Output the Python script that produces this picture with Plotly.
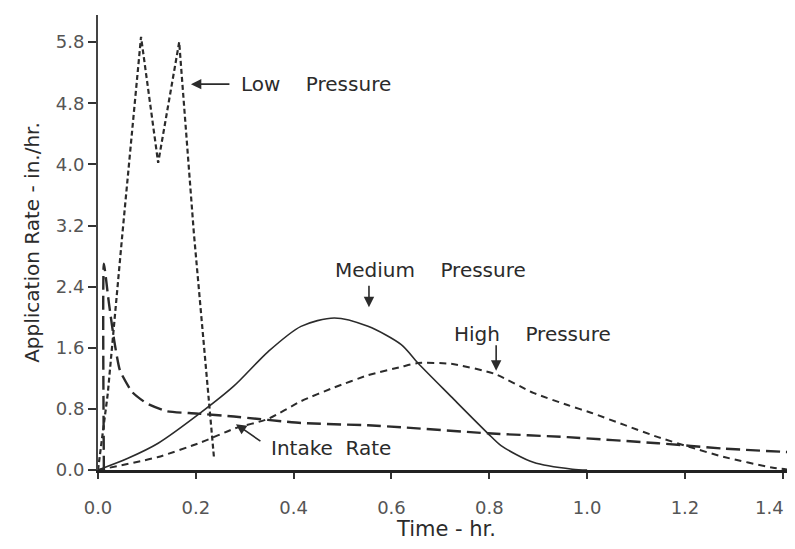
import plotly.graph_objects as go

# ---- data ----
low_x = [0.0, 0.02, 0.05, 0.088, 0.123, 0.166, 0.196, 0.237]
low_y = [0.0, 1.0, 3.1, 5.67, 4.02, 5.6, 3.1, 0.17]

medium_x = [0.0, 0.06, 0.123, 0.21, 0.278, 0.348, 0.415, 0.483, 0.552, 0.62, 0.654, 0.722, 0.797, 0.824, 0.89, 0.97, 1.0]
medium_y = [0.0, 0.15, 0.35, 0.75, 1.10, 1.55, 1.88, 1.99, 1.88, 1.64, 1.40, 0.96, 0.48, 0.32, 0.10, 0.01, 0.0]

high_x = [0.0, 0.123, 0.21, 0.278, 0.348, 0.415, 0.483, 0.552, 0.62, 0.654, 0.722, 0.81, 0.89, 0.96, 1.008, 1.076, 1.145, 1.21, 1.28, 1.38, 1.42]
high_y = [0.0, 0.17, 0.36, 0.54, 0.67, 0.90, 1.08, 1.24, 1.35, 1.40, 1.39, 1.26, 1.01, 0.85, 0.75, 0.59, 0.43, 0.30, 0.17, 0.03, 0.0]

intake_x = [0.012, 0.012, 0.022, 0.033, 0.045, 0.07, 0.1, 0.14, 0.2, 0.278, 0.415, 0.552, 0.62, 0.797, 0.96, 1.145, 1.28, 1.425]
intake_y = [0.0, 2.7, 2.2, 1.7, 1.3, 1.02, 0.87, 0.77, 0.74, 0.70, 0.615, 0.585, 0.56, 0.48, 0.43, 0.35, 0.28, 0.23]

x_ticks = [0.0, 0.2, 0.4, 0.6, 0.8, 1.0, 1.2, 1.4]
x_ticktext = ["0.0", "0.2", "0.4", "0.6", "0.8", "1.0", "1.2", "1.4"]
y_ticks = [0.0, 0.8, 1.6, 2.4, 3.2, 4.0, 4.8, 5.6]
y_ticktext = ["0.0", "0.8", "1.6", "2.4", "3.2", "4.0", "4.8", "5.8"]

INK = "#2b2b2b"
TICK_INK = "#555555"
FONT = "DejaVu Sans"
NB = "\u00a0"

fig = go.Figure()
fig.add_trace(go.Scatter(x=low_x, y=low_y, mode="lines", name="Low Pressure",
                         line=dict(color=INK, width=2.2, dash="5px,3px")))
fig.add_trace(go.Scatter(x=medium_x, y=medium_y, mode="lines", name="Medium Pressure",
                         line=dict(color=INK, width=1.6, shape="spline", smoothing=0.8)))
fig.add_trace(go.Scatter(x=high_x, y=high_y, mode="lines", name="High Pressure",
                         line=dict(color=INK, width=2, dash="7px,5px", shape="spline", smoothing=0.6)))
fig.add_trace(go.Scatter(x=intake_x, y=intake_y, mode="lines", name="Intake Rate",
                         line=dict(color=INK, width=2.4, dash="14px,6px", shape="spline", smoothing=0.5)))

ann_font = dict(family=FONT, size=20, color=INK)
arrow = dict(showarrow=True, arrowhead=2, arrowsize=1.3, arrowwidth=1.6, arrowcolor=INK, text="")

# the last x tick label sits at the right edge of the window: draw it right-aligned so it stays visible
shown_x_ticktext = x_ticktext[:-1] + [""]

annotations = [
    # texts
    dict(x=0.445, y=5.05, text="Low" + NB * 4 + "Pressure", showarrow=False, font=ann_font,
         xanchor="center", yanchor="middle"),
    dict(x=0.679, y=2.62, text="Medium" + NB * 4 + "Pressure", showarrow=False, font=ann_font,
         xanchor="center", yanchor="middle"),
    dict(x=0.888, y=1.78, text="High" + NB * 4 + "Pressure", showarrow=False, font=ann_font,
         xanchor="center", yanchor="middle"),
    dict(x=0.476, y=0.29, text="Intake" + NB * 2 + "Rate", showarrow=False, font=ann_font,
         xanchor="center", yanchor="middle"),
    # arrows
    dict(x=0.19, y=5.05, ax=40, ay=0, **arrow),
    dict(x=0.554, y=2.13, ax=0, ay=-23, **arrow),
    dict(x=0.814, y=1.30, ax=0, ay=-27, **arrow),
    dict(x=0.282, y=0.60, ax=26, ay=18, **arrow),
    # last x tick label
    dict(x=x_ticks[-1], xref="x", y=0, yref="paper", text=x_ticktext[-1], showarrow=False,
         xanchor="right", yanchor="middle", xshift=3, yshift=-37,
         font=dict(family=FONT, size=18, color=TICK_INK)),
]

# the page body adds an 8px margin; the plot area is placed to match the window
fig.update_layout(
    width=795, height=533,
    margin=dict(l=90, r=8, t=7, b=71),
    paper_bgcolor="white", plot_bgcolor="white",
    showlegend=False,
    font=dict(family=FONT, color=INK),
    annotations=annotations,
)
fig.update_xaxes(
    range=[0, 1.425], showgrid=False, zeroline=False, automargin=False,
    showline=True, linewidth=3, linecolor="#222222",
    tickmode="array", tickvals=x_ticks, ticktext=shown_x_ticktext,
    ticks="outside", ticklen=6, tickwidth=2, tickcolor="#333333",
    ticklabelstandoff=13, ticklabeloverflow="allow",
    tickfont=dict(family=FONT, size=18, color=TICK_INK),
    title=dict(text="Time - hr.", font=dict(family=FONT, size=21, color=INK), standoff=5),
)
fig.update_yaxes(
    range=[0, 5.955], showgrid=False, zeroline=False, automargin=False,
    showline=True, linewidth=2, linecolor="#444444",
    tickmode="array", tickvals=y_ticks, ticktext=y_ticktext,
    ticks="outside", ticklen=8, tickwidth=2, tickcolor="#333333",
    tickfont=dict(family=FONT, size=18, color=TICK_INK),
    title=dict(text="Application Rate - in./hr.", font=dict(family=FONT, size=20, color=INK), standoff=11),
)

fig.write_html("out.html")
